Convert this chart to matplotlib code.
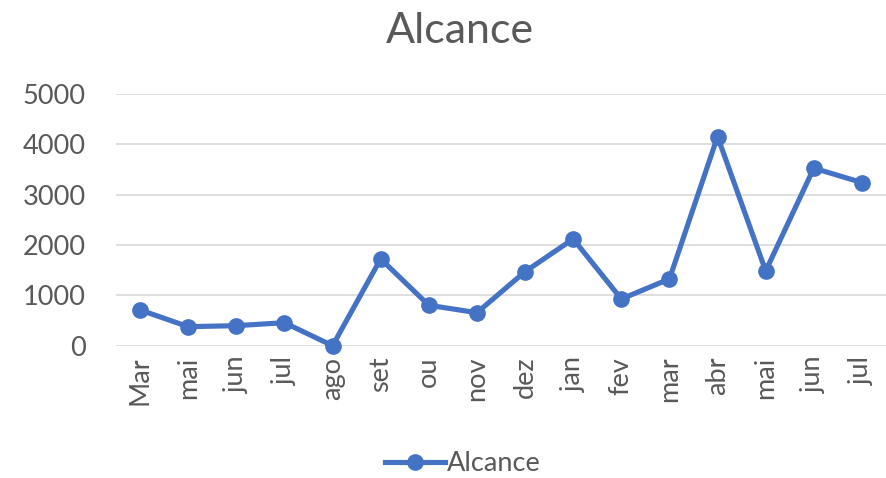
import matplotlib.pyplot as plt
import numpy as np

# Data ------------------------------------------------------------------------------- #
months = ["Mar", "mai", "jun", "jul", "ago", "set", "ou", "nov",
          "dez", "jan", "fev", "mar", "abr", "mai", "jun", "jul"]
alcance = [710, 378, 398, 457, 0, 1724, 803, 656,
           1471, 2121, 928, 1326, 4155, 1485, 3527, 3240]
yticks = [0, 1000, 2000, 3000, 4000, 5000]

BLUE = "#4472C4"
GREY = "#595959"
GRID = "#D9D9D9"

plt.rcParams["font.family"] = ["Lato", "DejaVu Sans"]

fig = plt.figure(figsize=(8.87, 4.78), dpi=100)
ax = fig.add_axes([116 / 887, (478 - 345.7) / 478, 770 / 887, (345.7 - 94) / 478])

x = np.arange(len(months))
ax.plot(x, alcance, color=BLUE, lw=3.7, marker="o", ms=11, label="Alcance",
        solid_joinstyle="round", zorder=3, clip_on=False)

ax.set_xlim(-0.5, len(months) - 0.5)
ax.set_ylim(0, 5000)
ax.set_yticks(yticks)
ax.set_xticks(x)
ax.set_xticklabels(months, rotation=90)
ax.grid(axis="y", color=GRID, lw=1.2)
ax.set_axisbelow(True)
for s in ax.spines.values():
    s.set_visible(False)
ax.tick_params(length=0, labelsize=19.5, colors=GREY, pad=8)
ax.tick_params(axis="y", pad=22)

fig.text(0.518, 0.935, "Alcance", ha="center", va="center", fontsize=31, color=GREY)
leg = fig.legend(loc="center", bbox_to_anchor=(0.522, 0.03), frameon=False,
                 fontsize=19.5, handlelength=2.2, handletextpad=0.1)
for t in leg.get_texts():
    t.set_color(GREY)

fig.savefig("out.png", dpi=100)
